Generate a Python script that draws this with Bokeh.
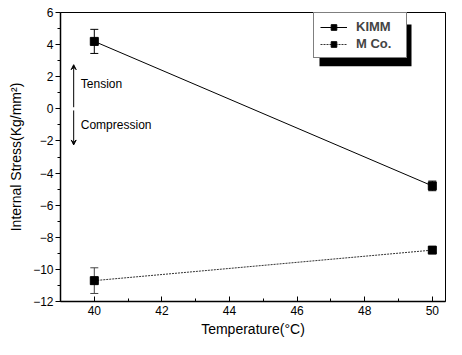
from bokeh.plotting import figure
from bokeh.models import (ColumnDataSource, Whisker, Legend, LegendItem, Arrow,
                          VeeHead, Label, BoxAnnotation, FixedTicker)
from bokeh.embed import file_html
from bokeh.resources import INLINE

temps = [40, 50]
kimm = [4.2, -4.8]
kimm_err = [0.75, 0.3]
mco = [-10.7, -8.8]
mco_err = [0.8, 0.15]

x_ticks = [40, 42, 44, 46, 48, 50]
y_ticks = [-12, -10, -8, -6, -4, -2, 0, 2, 4, 6]

FONT = "Liberation Sans"

W, H = 446, 339
BL, BR, BT, BB = 60, 1, 12, 36
FW, FH = W - BL - BR, H - BT - BB
X0 = 39.0
X1 = X0 + FW / 33.8
Y0, Y1 = -12, 6

p = figure(width=W, height=H, output_backend="svg", toolbar_location=None,
           x_range=(X0, X1), y_range=(Y0, Y1),
           min_border_left=BL, min_border_right=BR, min_border_top=BT, min_border_bottom=BB)
p.xgrid.visible = False
p.ygrid.visible = False
p.outline_line_color = "black"
p.outline_line_width = 1
p.background_fill_color = "white"
p.border_fill_color = "white"

ks = ColumnDataSource(dict(x=temps, y=kimm,
                           lo=[v - e for v, e in zip(kimm, kimm_err)],
                           hi=[v + e for v, e in zip(kimm, kimm_err)]))
ms = ColumnDataSource(dict(x=temps, y=mco,
                           lo=[v - e for v, e in zip(mco, mco_err)],
                           hi=[v + e for v, e in zip(mco, mco_err)]))

kl = p.line("x", "y", source=ks, line_color="black", line_width=1)
km = p.scatter("x", "y", source=ks, marker="square", size=8, color="black")
ml = p.line("x", "y", source=ms, line_color="#333333", line_width=1, line_dash="2 1")
mm = p.scatter("x", "y", source=ms, marker="square", size=8, color="black")

for src, col in ((ks, "black"), (ms, "#444444")):
    w = Whisker(source=src, base="x", lower="lo", upper="hi", line_color=col, line_width=1)
    w.upper_head.size = 8
    w.lower_head.size = 8
    w.upper_head.line_color = col
    w.lower_head.line_color = col
    p.add_layout(w)

# tension / compression arrows
p.add_layout(Arrow(end=VeeHead(size=5, line_color="black", line_width=1),
                   x_start=39.39, y_start=0.1, x_end=39.39, y_end=2.75, line_width=1))
p.add_layout(Arrow(end=VeeHead(size=5, line_color="black", line_width=1),
                   x_start=39.39, y_start=-0.1, x_end=39.39, y_end=-2.25, line_width=1))
p.add_layout(Label(x=39.6, y=1.55, text="Tension", text_font=FONT, text_font_size="12px",
                   text_baseline="middle", text_color="black"))
p.add_layout(Label(x=39.6, y=-1.0, text="Compression", text_font=FONT, text_font_size="12px",
                   text_baseline="middle", text_color="black"))

# legend box placement (pixels from frame left / top)
LGX, LGT, LGW, LGH, SH = 253, 6, 92, 42, 6
def px2x(px):
    return X0 + px / FW * (X1 - X0)
def py2y(py):
    return Y1 - py / FH * (Y1 - Y0)

p.add_layout(BoxAnnotation(left=px2x(LGX + SH), right=px2x(LGX + SH + LGW),
                           top=py2y(LGT + SH), bottom=py2y(LGT + SH + LGH),
                           fill_color="black", fill_alpha=1, line_color=None, level="underlay"))

legend = Legend(items=[LegendItem(label="KIMM", renderers=[kl, km]),
                       LegendItem(label="M Co.", renderers=[ml, mm])],
                location=(LGX, FH - LGT - LGH), orientation="vertical",
                border_line_color="black", border_line_width=1,
                background_fill_color="white", background_fill_alpha=1,
                label_text_font=FONT, label_text_font_size="13px",
                label_text_font_style="bold",
                glyph_width=27, glyph_height=14, label_height=14, label_width=44,
                spacing=2, padding=6, margin=0, label_standoff=9)
p.add_layout(legend)

for ax in (p.xaxis[0], p.yaxis[0]):
    ax.axis_line_color = "black"
    ax.axis_line_width = 1.5
    ax.major_tick_line_color = "black"
    ax.minor_tick_line_color = "black"
    ax.major_label_text_font = FONT
    ax.major_label_text_font_size = "12px"
    ax.major_label_text_color = "black"
    ax.axis_label_text_font = FONT
    ax.axis_label_text_font_size = "14px"
    ax.axis_label_text_font_style = "normal"
    ax.axis_label_text_color = "black"

p.xaxis.ticker = FixedTicker(ticks=x_ticks, minor_ticks=[39, 41, 43, 45, 47, 49])
p.yaxis.ticker = FixedTicker(ticks=y_ticks, minor_ticks=[-11, -9, -7, -5, -3, -1, 1, 3, 5])
p.xaxis.major_tick_in = 5
p.xaxis.major_tick_out = 0
p.xaxis.minor_tick_in = 3
p.xaxis.minor_tick_out = 0
p.yaxis.major_tick_in = 0
p.yaxis.major_tick_out = 5
p.yaxis.minor_tick_in = 0
p.yaxis.minor_tick_out = 3
p.xaxis.major_label_standoff = 4
p.yaxis.major_label_standoff = 2
p.xaxis.axis_label = "Temperature(°C)"
p.yaxis.axis_label = "Internal Stress(Kg/mm²)"
p.xaxis.axis_label_standoff = 3
p.yaxis.axis_label_standoff = 6

open("out.html", "w").write(file_html(p, INLINE))
